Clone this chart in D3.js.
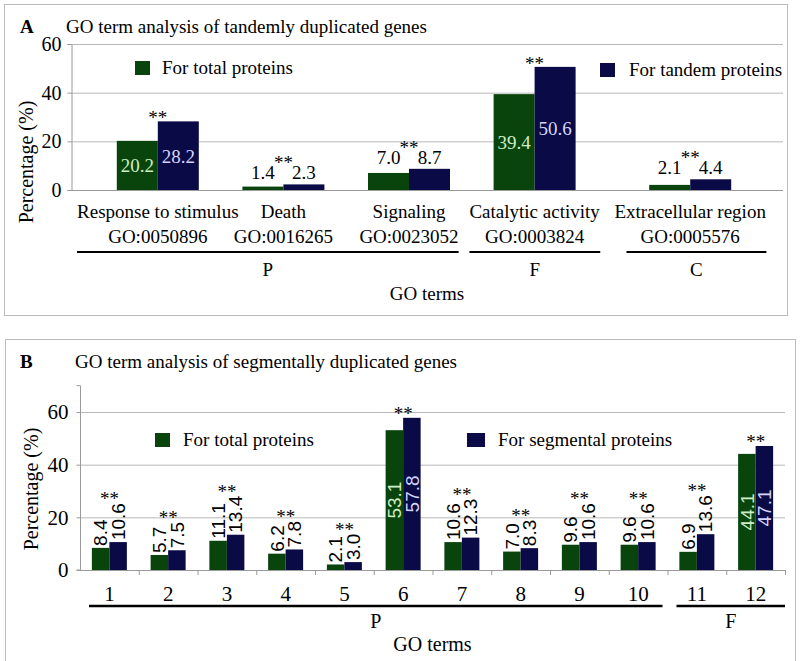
<!DOCTYPE html>
<html><head><meta charset="utf-8">
<script src="https://cdn.jsdelivr.net/npm/d3@7"></script>
<style>body{margin:0;background:#fff}svg{display:block}</style>
</head><body>
<svg id="chart" width="800" height="661"></svg>
<script>
// ---------- Panel A data ----------
const termsA = ["Response to stimulus", "Death", "Signaling", "Catalytic activity", "Extracellular region"];
const goIdsA = ["GO:0050896", "GO:0016265", "GO:0023052", "GO:0003824", "GO:0005576"];
const classA = ["P", "P", "P", "F", "C"];
const totalA = [20.2, 1.4, 7.0, 39.4, 2.1];
const tandemA = [28.2, 2.3, 8.7, 50.6, 4.4];
const sigA = ["**", "**", "**", "**", "**"];
const ticksA = [0, 20, 40, 60];
const seriesA = ["For total proteins", "For tandem proteins"];

// ---------- Panel B data ----------
const termsB = ["1", "2", "3", "4", "5", "6", "7", "8", "9", "10", "11", "12"];
const classB = ["P", "P", "P", "P", "P", "P", "P", "P", "P", "P", "F", "F"];
const totalB = [8.4, 5.7, 11.1, 6.2, 2.1, 53.1, 10.6, 7.0, 9.6, 9.6, 6.9, 44.1];
const segmentalB = [10.6, 7.5, 13.4, 7.8, 3.0, 57.8, 12.3, 8.3, 10.6, 10.6, 13.6, 47.1];
const sigB = ["**", "**", "**", "**", "**", "**", "**", "**", "**", "**", "**", "**"];
const ticksB = [0, 20, 40, 60];
const seriesB = ["For total proteins", "For segmental proteins"];

// ---------- styles ----------
const GREEN = "#08440c", NAVY = "#0a0a46";
const IN_GREEN = "#cdeec4", IN_NAVY = "#d4d4fa";
const SERIF = "Liberation Serif, Times New Roman, serif";
const SANS = "Liberation Sans, Arial, sans-serif";
const GRID = "#b8b8b8", AXIS = "#9a9a9a";

const svg = d3.select("#chart");
svg.append("rect").attr("width", 800).attr("height", 661).attr("fill", "#fff");

// panel borders
svg.append("rect").attr("x", 4.5).attr("y", 4.5).attr("width", 783).attr("height", 311)
  .attr("fill", "none").attr("stroke", "#bdbdbd");
svg.append("rect").attr("x", 5.5).attr("y", 339.5).attr("width", 790).attr("height", 330)
  .attr("fill", "none").attr("stroke", "#bdbdbd");

function txt(g, x, y, s, size, opts = {}) {
  return g.append("text").attr("x", x).attr("y", y).text(s)
    .style("font-family", opts.family || SERIF).attr("font-size", size)
    .attr("font-weight", opts.weight || "normal")
    .attr("text-anchor", opts.anchor || "start")
    .attr("fill", opts.fill || "#000");
}

// =================== PANEL A ===================
(function () {
  const g = svg.append("g");
  const left = 71, right = 783, top = 44, bottom = 190;
  const y = d3.scaleLinear().domain([0, 60]).range([bottom, top]);
  const classGap = { P: 0, F: 0, C: 30 };
  const x = d3.scaleBand().domain(termsA).range([95, 723]).padding(0);
  const sub = d3.scaleBand().domain(seriesA).range([0, 82]).padding(0);
  const cx = (i) => x(termsA[i]) + x.bandwidth() / 2 + classGap[classA[i]];

  txt(g, 20, 33, "A", 19, { weight: "bold" });
  txt(g, 66, 33, "GO term analysis of tandemly duplicated genes", 19);

  g.selectAll(".grid").data(ticksA.filter(d => d > 0)).enter().append("line")
    .attr("x1", left).attr("x2", right).attr("y1", d => y(d) + 0.5).attr("y2", d => y(d) + 0.5)
    .attr("stroke", GRID);
  const ya = g.append("g").attr("transform", `translate(${left + 0.5},0)`)
    .call(d3.axisLeft(y).tickValues(ticksA).tickSize(4).tickPadding(6).tickFormat(d3.format("d")));
  ya.attr("font-family", null);
  ya.select(".domain").attr("stroke", AXIS);
  ya.selectAll(".tick line").attr("stroke", AXIS);
  ya.selectAll(".tick text").style("font-family", SERIF).attr("font-size", 20).attr("fill", "#000");
  g.append("line").attr("x1", left).attr("x2", right).attr("y1", bottom + 0.5).attr("y2", bottom + 0.5)
    .attr("stroke", AXIS);

  const series = [totalA, tandemA];
  const colors = [GREEN, NAVY];
  const inCol = [IN_GREEN, IN_NAVY];
  termsA.forEach((t, i) => {
    const x0 = cx(i) - 41;
    const tops = [];
    series.forEach((s, k) => {
      const bx = x0 + sub(seriesA[k]);
      g.append("rect").attr("x", bx).attr("y", y(s[i])).attr("width", sub.bandwidth())
        .attr("height", bottom - y(s[i])).attr("fill", colors[k]);
      tops.push(y(s[i]));
    });
    const maxTop = Math.min(...tops);
    let topY = maxTop;
    series.forEach((s, k) => {
      const bcx = x0 + sub(seriesA[k]) + sub.bandwidth() / 2;
      const v = s[i];
      if (v > 15) {
        txt(g, bcx, (y(v) + bottom) / 2 + 7, v.toFixed(1), 19, { anchor: "middle", fill: inCol[k] });
      } else {
        const by = maxTop - 5;
        txt(g, bcx, by, v.toFixed(1), 19, { anchor: "middle" });
        topY = Math.min(topY, by - 13);
      }
    });
    txt(g, cx(i), topY + 3, sigA[i], 19, { anchor: "middle" });
    txt(g, cx(i), 218, t, 19, { anchor: "middle" }).attr("class", "lblA" + classA[i]);
    txt(g, cx(i), 243, goIdsA[i], 19, { anchor: "middle" }).attr("class", "lblA" + classA[i]);
  });

  ["P", "F", "C"].forEach(c => {
    let mn = Infinity, mx = -Infinity;
    g.selectAll(".lblA" + c).each(function () {
      const b = this.getBBox(); mn = Math.min(mn, b.x); mx = Math.max(mx, b.x + b.width);
    });
    if (c === "C") { mn += 12; }
    g.append("line").attr("x1", mn).attr("x2", mx).attr("y1", 252).attr("y2", 252)
      .attr("stroke", "#000").attr("stroke-width", 2);
    txt(g, (mn + mx) / 2, 276, c, 19, { anchor: "middle" });
  });
  txt(g, (left + right) / 2, 300, "GO terms", 19, { anchor: "middle" });

  txt(g, 0, 0, "Percentage (%)", 20, { anchor: "middle" })
    .attr("transform", "translate(33,162) rotate(-90)");

  g.append("rect").attr("x", 135).attr("y", 61).attr("width", 15).attr("height", 14).attr("fill", GREEN);
  txt(g, 162, 74, seriesA[0], 19);
  g.append("rect").attr("x", 600).attr("y", 63).attr("width", 15).attr("height", 14).attr("fill", NAVY);
  txt(g, 629, 76, seriesA[1], 19);
})();

// =================== PANEL B ===================
(function () {
  const g = svg.append("g");
  const left = 80, right = 785, bottom = 570;
  const y = d3.scaleLinear().domain([0, 70]).range([bottom, bottom - 70 * 2.633]);
  const x = d3.scaleBand().domain(termsB).range([left, right]).padding(0);
  const sub = d3.scaleBand().domain(seriesB).range([0, 35]).padding(0);
  const cx = (i) => x(termsB[i]) + x.bandwidth() / 2;

  txt(g, 20, 368, "B", 19, { weight: "bold" });
  txt(g, 75, 368, "GO term analysis of segmentally duplicated genes", 19);

  g.selectAll(".grid").data(ticksB.filter(d => d > 0)).enter().append("line")
    .attr("x1", left).attr("x2", right).attr("y1", d => y(d) + 0.5).attr("y2", d => y(d) + 0.5)
    .attr("stroke", GRID);
  const ya = g.append("g").attr("transform", `translate(${left + 0.5},0)`)
    .call(d3.axisLeft(y).tickValues(ticksB).tickSize(4).tickPadding(8).tickFormat(d3.format("d")));
  ya.attr("font-family", null);
  ya.select(".domain").attr("stroke", AXIS).attr("d", `M-4,${y(70)}H0V${bottom}H-4`);
  ya.selectAll(".tick line").attr("stroke", AXIS);
  ya.selectAll(".tick text").style("font-family", SERIF).attr("font-size", 21).attr("fill", "#000");
  g.append("line").attr("x1", left).attr("x2", right).attr("y1", bottom + 0.5).attr("y2", bottom + 0.5)
    .attr("stroke", AXIS);
  g.selectAll(".xt").data(termsB).enter().append("line")
    .attr("x1", d => x(d) + x.bandwidth() + 0.5).attr("x2", d => x(d) + x.bandwidth() + 0.5)
    .attr("y1", bottom).attr("y2", bottom + 5).attr("stroke", AXIS);

  const series = [totalB, segmentalB];
  const colors = [GREEN, NAVY];
  const inCol = [IN_GREEN, IN_NAVY];
  termsB.forEach((t, i) => {
    const x0 = cx(i) - 17.5;
    let topY = Infinity;
    series.forEach((s, k) => {
      const bx = x0 + sub(seriesB[k]);
      const v = s[i];
      g.append("rect").attr("x", bx).attr("y", y(v)).attr("width", sub.bandwidth())
        .attr("height", bottom - y(v)).attr("fill", colors[k]);
      topY = Math.min(topY, y(v));
      const bcx = bx + sub.bandwidth() / 2;
      if (v > 15) {
        txt(g, 0, 0, v.toFixed(1), 19, { family: SANS, anchor: "middle", fill: inCol[k] })
          .attr("dy", "0.35em")
          .attr("transform", `translate(${bcx},${(y(v) + bottom) / 2}) rotate(-90)`);
      } else {
        const tt = txt(g, 0, 0, v.toFixed(1), 19, { family: SANS, anchor: "start" })
          .attr("dy", "0.35em")
          .attr("transform", `translate(${bcx},${y(v) - 2}) rotate(-90)`);
        const len = tt.node().getComputedTextLength();
        topY = Math.min(topY, y(v) - 2 - len);
      }
    });
    txt(g, cx(i), topY + 2, sigB[i], 19, { anchor: "middle" });
    txt(g, cx(i), 601, t, 21, { anchor: "middle" });
  });

  ["P", "F"].forEach(c => {
    const idx = classB.map((d, i) => d === c ? i : -1).filter(i => i >= 0);
    const x1 = x(termsB[idx[0]]) + 9;
    const x2 = x(termsB[idx[idx.length - 1]]) + x.bandwidth() - (c === "F" ? 0 : 5);
    g.append("line").attr("x1", x1).attr("x2", x2).attr("y1", 606).attr("y2", 606)
      .attr("stroke", "#000").attr("stroke-width", 2.5);
    txt(g, (x1 + x2) / 2, 628, c, 20, { anchor: "middle" });
  });
  txt(g, (left + right) / 2, 651, "GO terms", 20, { anchor: "middle" });

  txt(g, 0, 0, "Percentage (%)", 20, { anchor: "middle" })
    .attr("transform", "translate(38,489) rotate(-90)");

  g.append("rect").attr("x", 155).attr("y", 433).attr("width", 15).attr("height", 14).attr("fill", GREEN);
  txt(g, 183, 446, seriesB[0], 19);
  g.append("rect").attr("x", 467).attr("y", 433).attr("width", 18).attr("height", 14).attr("fill", NAVY);
  txt(g, 498, 446, seriesB[1], 19);
})();
</script>
</body></html>
